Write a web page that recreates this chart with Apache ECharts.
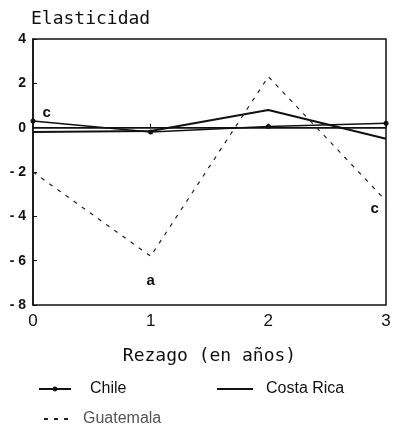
<!DOCTYPE html>
<html><head><meta charset="utf-8">
<script src="https://cdn.jsdelivr.net/npm/echarts@6/dist/echarts.min.js"></script>
<style>html,body{margin:0;padding:0;background:#fff}#c{width:396px;height:448px}</style>
</head><body><div id="c"></div>
<script>
const lags = [0, 1, 2, 3];
const chile = [0.3, -0.2, 0.05, 0.2];
const costaRica = [-0.2, -0.15, 0.8, -0.5];
const guatemala = [-2.0, -5.8, 2.3, -3.3];
const chileNotes = ['c', '', '', ''];
const guatNotes = ['', 'a', '', 'c'];
const yTicks = [-8, -6, -4, -2, 0, 2, 4];

const chart = echarts.init(document.getElementById('c'));
const noteStyle = {fontFamily: 'Liberation Sans', fontSize: 15, fontWeight: 'bold', color: '#111'};
const chileData = lags.map((x, i) => ({
  value: [x, chile[i]],
  label: chileNotes[i] ? Object.assign({show: true, formatter: chileNotes[i], position: 'right', offset: [2, -8]}, noteStyle) : {show: false}
}));
const guatPos = [null, {position: 'bottom', offset: [0, 12]}, null, {position: 'left', offset: [-2, 8]}];
const guatData = lags.map((x, i) => ({
  value: [x, guatemala[i]],
  label: guatNotes[i] ? Object.assign({show: true, formatter: guatNotes[i]}, guatPos[i], noteStyle) : {show: false}
}));

chart.setOption({
  animation: false,
  title: {text: 'Elasticidad', left: 26, top: 5,
    textStyle: {fontFamily: 'DejaVu Sans Mono', fontSize: 18, fontWeight: 'normal', color: '#111'}},
  grid: {left: 33, right: 10, top: 39, bottom: 143, show: true, borderColor: '#111', borderWidth: 1.5},
  xAxis: {type: 'value', min: 0, max: 3, interval: 1,
    name: 'Rezago (en años)', nameLocation: 'middle', nameGap: 42,
    nameTextStyle: {fontFamily: 'DejaVu Sans Mono', fontSize: 18, color: '#111'},
    axisLine: {lineStyle: {color: '#111', width: 1.5}},
    axisTick: {inside: true, length: 4, lineStyle: {color: '#111'}},
    axisLabel: {fontFamily: 'Liberation Sans', fontSize: 17, color: '#111', margin: 8},
    splitLine: {show: false}},
  yAxis: {type: 'value', min: -8, max: 4, interval: 2,
    axisLine: {show: true, lineStyle: {color: '#111', width: 1.5}},
    axisTick: {show: true, inside: true, length: 4, lineStyle: {color: '#111'}},
    axisLabel: {fontFamily: 'Liberation Sans', fontSize: 14, fontWeight: 'bold', color: '#111', margin: 7,
      formatter: v => yTicks.includes(v) ? (v < 0 ? '- ' + (-v) : String(v)) : ''},
    splitLine: {show: false}},
  legend: [
    {data: [{name: 'Chile', itemStyle: {borderWidth: 0}}], left: 33, top: 376, itemWidth: 32, itemHeight: 6,
      textStyle: {fontFamily: 'Liberation Sans', fontSize: 16, color: '#111', padding: [0, 0, 0, 14]}},
    {data: [{name: 'Costa Rica', itemStyle: {opacity: 0}}], left: 211, top: 376, itemWidth: 36, itemHeight: 6,
      textStyle: {fontFamily: 'Liberation Sans', fontSize: 16, color: '#111', padding: [0, 0, 0, 8]}},
    {data: [{name: 'Guatemala', itemStyle: {opacity: 0}}], left: 38, top: 406, itemWidth: 26, itemHeight: 6,
      textStyle: {fontFamily: 'Liberation Sans', fontSize: 16, color: '#555', padding: [0, 0, 0, 8]}}
  ],
  series: [
    {name: 'Costa Rica', type: 'line', data: lags.map((x, i) => [x, costaRica[i]]),
      symbol: 'none', lineStyle: {color: '#111', width: 2}, itemStyle: {color: '#111'},
      markLine: {silent: true, symbol: 'none', label: {show: false},
        lineStyle: {color: '#111', width: 1, type: 'solid'}, data: [{yAxis: 0}]}},
    {name: 'Chile', type: 'line', data: chileData,
      symbol: 'circle', symbolSize: 5, showAllSymbol: true,
      lineStyle: {color: '#111', width: 1.5}, itemStyle: {color: '#111'}},
    {name: 'Guatemala', type: 'line', data: guatData,
      symbol: 'circle', symbolSize: 0.1, showAllSymbol: true,
      lineStyle: {color: '#222', width: 1.2, type: [4, 6]}, itemStyle: {color: '#222'}}
  ]
});
</script></body></html>
